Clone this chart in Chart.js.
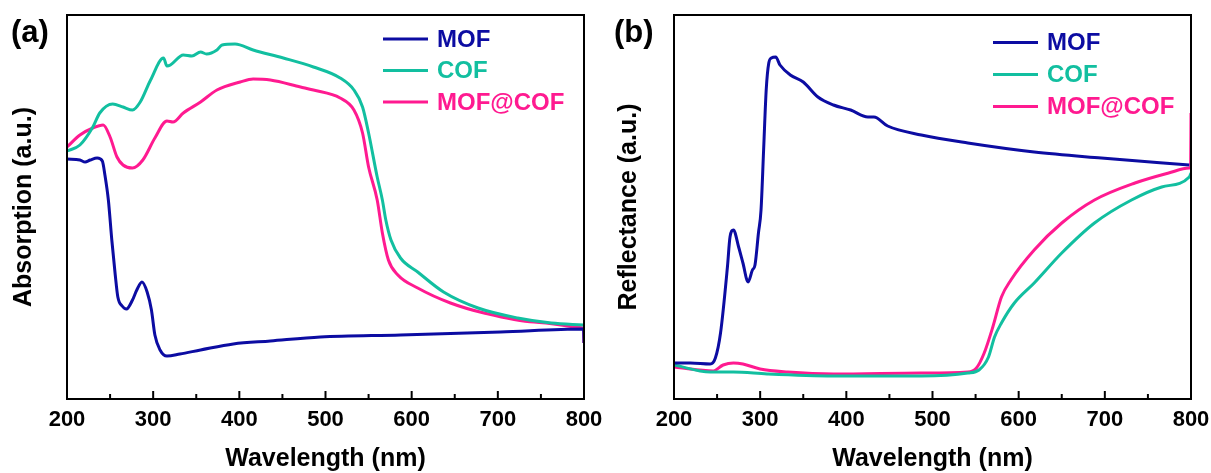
<!DOCTYPE html>
<html>
<head>
<meta charset="utf-8">
<script src="https://cdn.jsdelivr.net/npm/chart.js@4.4.1/dist/chart.umd.min.js"></script>
<style>
  body { margin: 0; background: #fff; }
  #wrap { position: relative; width: 1211px; height: 473px; }
  .panel { position: absolute; top: 0; height: 473px; }
  .tag { position: absolute; font: bold 31px 'Liberation Sans', Arial, sans-serif; line-height: 1; }
</style>
</head>
<body>
<div id="wrap">
  <div class="panel" style="left:0;width:605px"><canvas id="chartA"></canvas></div>
  <div class="panel" style="left:605px;width:606px"><canvas id="chartB"></canvas></div>
  <div class="tag" style="left:11px;top:16px">(a)</div>
  <div class="tag" style="left:614px;top:16px">(b)</div>
</div>
<script>
'use strict';

// Global Values
let seriesNames = ['MOF', 'COF', 'MOF@COF'];
let seriesColors = ['#0c0ca2', '#12bfa0', '#ff1a90'];
let xTicks = [200, 300, 400, 500, 600, 700, 800];

// (a) absorption, wavelength (nm) and a.u.
let absMofX = [200, 215, 221, 227, 235, 241, 244, 248, 252, 256, 259, 264, 269, 276, 281, 287, 293, 298, 302, 308, 316, 331, 355, 393, 436, 494, 587, 703, 799, 799.6, 800];
let absMofY = [240, 239, 237, 239, 241, 238, 224, 199, 159, 124, 102, 93, 90, 99, 109, 117, 107, 89, 64, 49, 43, 45, 49, 55, 58, 62, 64, 67, 70, 69, 56];
let absCofX = [200, 215, 230, 238, 253, 265, 276, 285, 297, 312, 316, 320, 335, 345, 355, 362, 374, 380, 395, 416, 451, 486, 517, 533, 543, 550, 560, 566, 570, 576, 587, 607, 637, 677, 723, 762, 799];
let absCofY = [248, 254, 272, 286, 295, 292, 289, 297, 319, 341, 333, 334, 344, 343, 347, 345, 349, 354, 355, 349, 341, 332, 321, 309, 292, 266, 222, 199, 179, 159, 141, 127, 107, 91, 81, 76, 74];
let absMixX = [200, 215, 230, 242, 250, 258, 265, 276, 288, 302, 316, 323, 335, 355, 374, 401, 416, 436, 471, 486, 517, 533, 543, 550, 560, 566, 573, 584, 607, 645, 684, 742, 799, 799.6, 800];
let absMixY = [252, 264, 271, 274, 262, 242, 234, 231, 239, 261, 278, 277, 286, 297, 309, 317, 320, 319, 312, 309, 301, 289, 266, 232, 199, 166, 139, 124, 111, 96, 86, 77, 71, 70, 56];

// (b) reflectance, wavelength (nm) and a.u.
let refMofX = [200, 219, 242, 248, 254, 262, 265, 269, 275, 280, 286, 291, 294, 298, 301, 304, 307, 310, 313, 318, 323, 335, 350, 367, 385, 405, 425, 432, 448, 487, 541, 618, 696, 798];
let refMofY = [36, 36, 35, 41, 66, 132, 162, 169, 152, 136, 117, 129, 134, 166, 189, 249, 309, 336, 341, 342, 334, 324, 317, 302, 294, 289, 282, 282, 273, 264, 256, 247, 241, 234];
let refCofX = [200, 242, 269, 308, 385, 487, 541, 554, 565, 572, 580, 595, 618, 650, 688, 731, 766, 798, 800];
let refCofY = [34, 27, 27, 25, 23, 23, 26, 29, 42, 62, 76, 96, 116, 146, 176, 199, 212, 222, 226];
let refMixX = [200, 230, 245, 257, 269, 280, 300, 332, 385, 487, 541, 551, 560, 570, 580, 591, 618, 650, 688, 735, 774, 798, 799.6, 800];
let refMixY = [32, 29, 28, 34, 36, 35, 30, 27, 25, 26, 27, 31, 46, 72, 102, 119, 149, 176, 199, 216, 226, 231, 232, 286];

let fontFamily = "'Liberation Sans', Arial, sans-serif";

function toPoints(xs, ys) {
  let pts = [];
  for (let i = 0; i < xs.length; i++) {
    pts.push({ x: xs[i], y: ys[i] });
  }
  return pts;
}

function makeDatasets(groups) {
  let sets = [];
  for (let i = 0; i < groups.length; i++) {
    sets.push({
      label: seriesNames[i],
      data: toPoints(groups[i][0], groups[i][1]),
      borderColor: seriesColors[i],
      borderWidth: 3,
      pointRadius: 0,
      cubicInterpolationMode: 'monotone',
      fill: false
    });
  }
  return sets;
}

// frame, inward ticks and legend
let framePlugin = {
  id: 'frame',
  afterDatasetsDraw(chart, args, opts) {
    let ctx = chart.ctx;
    let area = chart.chartArea;
    let xs = chart.scales.x;
    ctx.save();
    ctx.strokeStyle = '#000';
    ctx.lineWidth = 2;
    for (let v = 250; v < 800; v += 50) {
      let px = xs.getPixelForValue(v);
      let len = v % 100 === 0 ? 8 : 5;
      ctx.beginPath();
      ctx.moveTo(px, area.bottom);
      ctx.lineTo(px, area.bottom - len);
      ctx.stroke();
    }
    ctx.strokeRect(area.left, area.top, area.right - area.left, area.bottom - area.top);

    ctx.font = 'bold 24px ' + fontFamily;
    ctx.textBaseline = 'middle';
    ctx.lineWidth = 3;
    chart.data.datasets.forEach(function (ds, i) {
      let y = opts.y + i * opts.gap;
      ctx.strokeStyle = ds.borderColor;
      ctx.beginPath();
      ctx.moveTo(opts.x, y);
      ctx.lineTo(opts.x + 45, y);
      ctx.stroke();
      ctx.fillStyle = ds.borderColor;
      ctx.fillText(ds.label, opts.x + 54, y + 1);
    });
    ctx.restore();
  }
};

function chart(id, groups, yTitle, leftWidth, rightPad, legendPos) {
  let ctx = document.getElementById(id);
  // eslint-disable-next-line no-undef
  return new Chart(ctx, {
    type: 'line',
    data: { datasets: makeDatasets(groups) },
    options: {
      responsive: true,
      maintainAspectRatio: false,
      animation: false,
      layout: { padding: { top: 15, right: rightPad, left: 0, bottom: 0 } },
      plugins: {
        legend: { display: false },
        tooltip: { enabled: false },
        frame: legendPos
      },
      scales: {
        x: {
          type: 'linear',
          min: 200,
          max: 800,
          afterBuildTicks(scale) {
            scale.ticks = xTicks.map(function (v) { return { value: v }; });
          },
          afterFit(scale) { scale.height = 74; },
          grid: { display: false },
          border: { display: false },
          ticks: { color: '#000', padding: 0, font: { family: fontFamily, size: 22, weight: 'bold' } },
          title: {
            display: true,
            text: 'Wavelength (nm)',
            color: '#000',
            padding: { top: 0, bottom: 0 },
            font: { family: fontFamily, size: 25, weight: 'bold', lineHeight: 1.1 }
          }
        },
        y: {
          min: 0,
          max: 384,
          afterFit(scale) { scale.width = leftWidth; },
          grid: { display: false },
          border: { display: false },
          ticks: { display: false },
          title: {
            display: true,
            text: yTitle,
            color: '#000',
            padding: { top: 10, bottom: 0 },
            font: { family: fontFamily, size: 25, weight: 'bold', lineHeight: 1.1 }
          }
        }
      }
    },
    plugins: [framePlugin]
  });
}

chart('chartA', [[absMofX, absMofY], [absCofX, absCofY], [absMixX, absMixY]], 'Absorption (a.u.)', 67, 21, { x: 383, y: 39, gap: 31.5 });
chart('chartB', [[refMofX, refMofY], [refCofX, refCofY], [refMixX, refMixY]], 'Reflectance (a.u.)', 69, 20, { x: 388, y: 42.5, gap: 32 });
</script>
</body>
</html>
